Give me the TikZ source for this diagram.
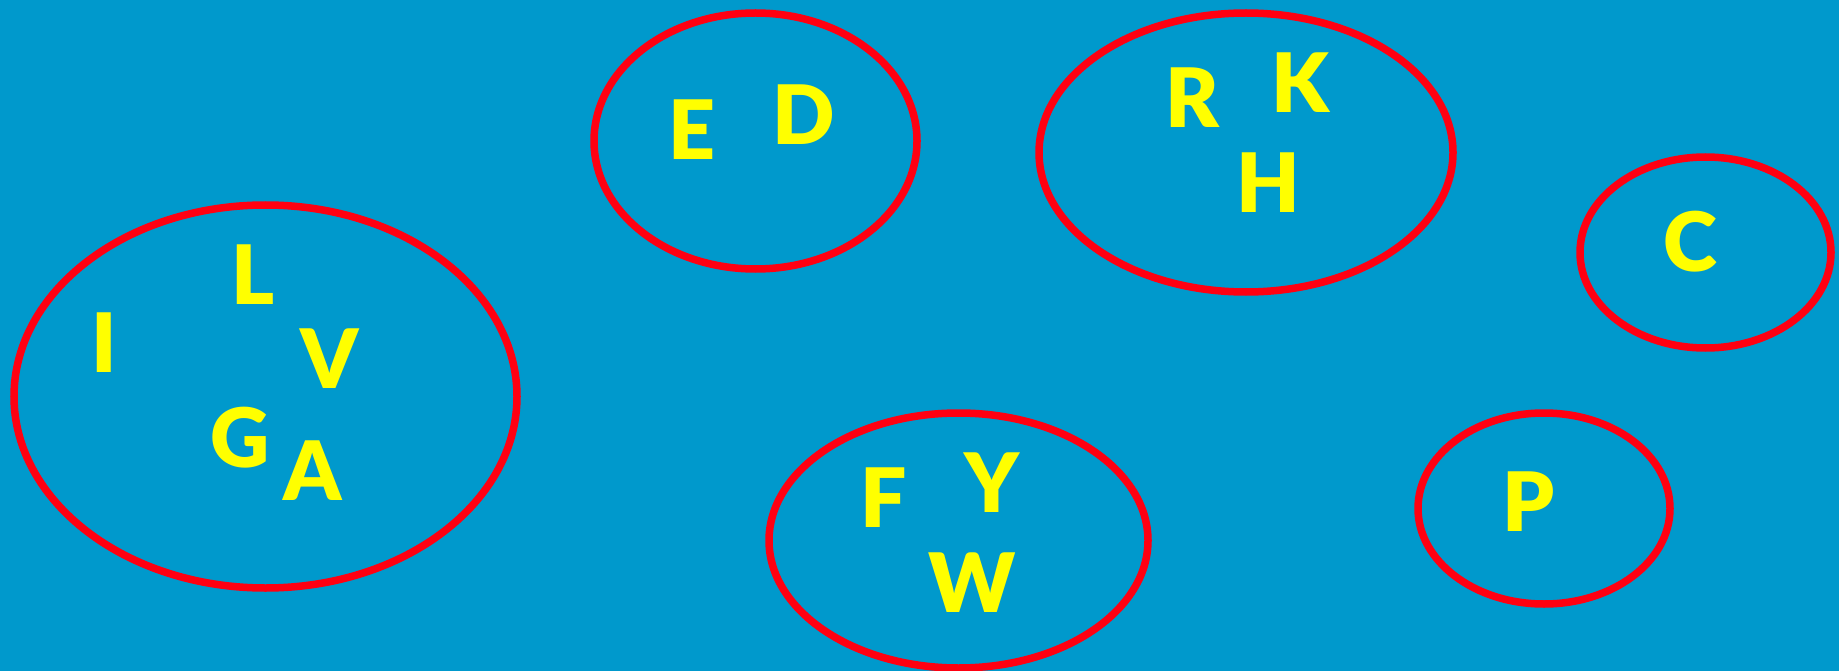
\documentclass[tikz,border=0pt]{standalone}
\usepackage{fontspec}
\setmainfont{Lato}[BoldFont={Lato Black}]
\usetikzlibrary{shapes.geometric}
\definecolor{bgblue}{RGB}{0,153,204}
\definecolor{ringred}{RGB}{255,0,17}
\definecolor{letteryellow}{RGB}{255,255,0}
\begin{document}
\begin{tikzpicture}[x=1pt,y=-1pt,
  ring/.style={ellipse, draw=ringred, line width=7.5pt, inner sep=0pt},
  letter/.style={text=letteryellow, inner sep=0pt, font=\fontsize{82}{82}\selectfont\bfseries}]
\fill[bgblue] (0,0) rectangle (1839,671);
\useasboundingbox (0,0) rectangle (1839,671);
% rings
\node[ring, minimum width=503pt, minimum height=383pt] (r1) at (265.5,396.5) {};
\node[ring, minimum width=323pt, minimum height=256pt] (r2) at (755.5,141) {};
\node[ring, minimum width=414pt, minimum height=279pt] (r3) at (1246,152.5) {};
\node[ring, minimum width=251pt, minimum height=191pt] (r4) at (1705.5,252.5) {};
\node[ring, minimum width=379pt, minimum height=255pt] (r5) at (958.5,540.5) {};
\node[ring, minimum width=252pt, minimum height=191pt] (r6) at (1544,508.5) {};
% letters
\node[letter] (lI) at (104,343) {I};
\node[letter] (lL) at (253,275) {L};
\node[letter] (lV) at (330,359) {V};
\node[letter] (lG) at (240,438) {G};
\node[letter] (lA) at (313,471) {A};
\node[letter] (lE) at (692,130) {E};
\node[letter] (lD) at (804,115) {D};
\node[letter] (lR) at (1192,98) {R};
\node[letter] (lK) at (1300,83) {K};
\node[letter] (lH) at (1268,183) {H};
\node[letter] (lC) at (1690,242) {C};
\node[letter] (lF) at (884,498) {F};
\node[letter] (lY) at (992,483) {Y};
\node[letter] (lW) at (972,583) {W};
\node[letter] (lP) at (1529,502) {P};
\end{tikzpicture}
\end{document}
